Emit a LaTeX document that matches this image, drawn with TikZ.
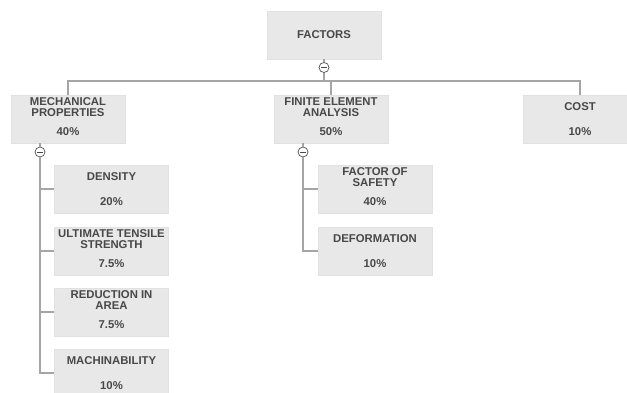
\documentclass[tikz,border=0pt]{standalone}
\usepackage{fontspec}
\setmainfont{Liberation Sans}
\usepackage{xcolor}
\usetikzlibrary{positioning}
\definecolor{boxfill}{RGB}{232,232,232}
\definecolor{boxline}{RGB}{225,225,225}
\definecolor{linkc}{RGB}{165,165,165}
\definecolor{textc}{RGB}{72,72,72}

\begin{document}
\begin{tikzpicture}[x=0.75pt, y=-0.75pt,
  fbox/.style={rectangle, fill=boxfill, draw=boxline, line width=0.3pt,
               minimum width=85.5pt, minimum height=36pt, inner sep=0pt},
  ftext/.style={font=\fontsize{8.5}{8.2}\selectfont\bfseries, text=textc,
                align=center, inner sep=0pt},
  tog/.style={circle, draw=textc, fill=white, line width=0.5pt, minimum size=7.5pt,
              inner sep=0pt,
              path picture={\draw[textc, line width=0.6pt]
                ([xshift=-2.2pt]path picture bounding box.center) --
                ([xshift=2.2pt]path picture bounding box.center);}},
  link/.style={draw=linkc, line width=0.8pt}
]
  \useasboundingbox (0,0) rectangle (627,392);

  % top node
  \node[fbox] (factors) at (324,35) {};
  \node[ftext] (factors-t) at (324,35) {FACTORS};

  % first level
  \node[fbox] (mech) at (68,119) {};
  \node[ftext] (mech-t) at (68,107) {MECHANICAL\\PROPERTIES};
  \node[ftext] (mech-p) at (68,132) {40\%};
  \node[fbox] (fea) at (331,119) {};
  \node[ftext] (fea-t) at (331,107) {FINITE ELEMENT\\ANALYSIS};
  \node[ftext] (fea-p) at (331,132) {50\%};
  \node[fbox] (cost) at (580,119) {};
  \node[ftext] (cost-t) at (580,107) {COST};
  \node[ftext] (cost-p) at (580,132) {10\%};

  % mechanical properties children
  \node[fbox] (dens) at (111.5,189) {};
  \node[ftext] (dens-t) at (111.5,177) {DENSITY};
  \node[ftext] (dens-p) at (111.5,202) {20\%};
  \node[fbox] (uts) at (111.5,251) {};
  \node[ftext] (uts-t) at (111.5,239) {ULTIMATE TENSILE\\STRENGTH};
  \node[ftext] (uts-p) at (111.5,264) {7.5\%};
  \node[fbox] (ria) at (111.5,312) {};
  \node[ftext] (ria-t) at (111.5,300) {REDUCTION IN\\AREA};
  \node[ftext] (ria-p) at (111.5,325) {7.5\%};
  \node[fbox] (mach) at (111.5,373) {};
  \node[ftext] (mach-t) at (111.5,361) {MACHINABILITY};
  \node[ftext] (mach-p) at (111.5,386) {10\%};

  % finite element analysis children
  \node[fbox] (fos) at (375,189) {};
  \node[ftext] (fos-t) at (375,177) {FACTOR OF\\SAFETY};
  \node[ftext] (fos-p) at (375,202) {40\%};
  \node[fbox] (def) at (375,251) {};
  \node[ftext] (def-t) at (375,239) {DEFORMATION};
  \node[ftext] (def-p) at (375,264) {10\%};

  % toggles
  \node[tog] (c0) at (324,67.5) {};
  \node[tog] (c1) at (40,152) {};
  \node[tog] (c2) at (303,152) {};
  \coordinate (bus) at (324,81);

  % connectors
  \draw[link] (factors.south) -- (c0.north);
  \draw[link] (c0.south) -- (bus);
  \draw[link] (mech.north) |- (bus) -| (cost.north);
  \draw[link] (bus -| fea.north) -- (fea.north);
  \draw[link] (c1.south) |- (mach.west);
  \draw[link] (c1 |- dens.west) -- (dens.west);
  \draw[link] (c1 |- uts.west) -- (uts.west);
  \draw[link] (c1 |- ria.west) -- (ria.west);
  \draw[link] (c2.south) |- (def.west);
  \draw[link] (c2 |- fos.west) -- (fos.west);
  \draw[link] (mech.south -| c1) -- (c1.north);
  \draw[link] (fea.south -| c2) -- (c2.north);
\end{tikzpicture}
\end{document}
